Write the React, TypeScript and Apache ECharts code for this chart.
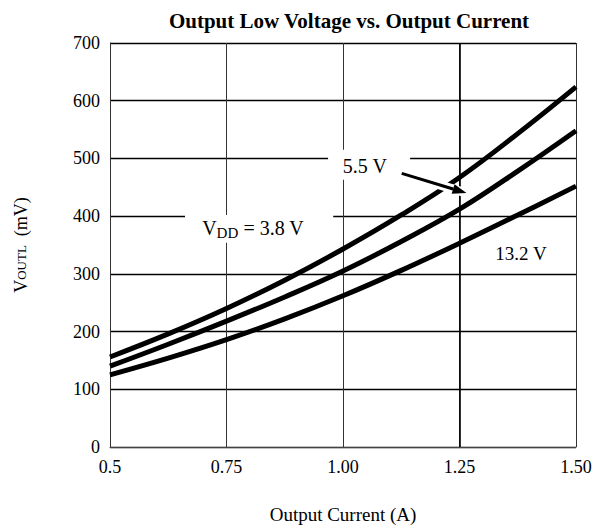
import React, { useEffect, useRef } from "react";
import * as echarts from "echarts";

const currents = [0.5, 0.625, 0.75, 0.875, 1.0, 1.125, 1.25, 1.375, 1.5];
const vdd38 = [156, 196, 240, 289, 343, 402, 467, 543, 624];
const vdd55 = [140, 178, 218, 260, 305, 356, 412, 478, 548];
const vdd132 = [125, 154, 186, 222, 262, 306, 353, 402, 452];
const xTickLabels: Record<string, string> = { "0.5": "0.5", "0.75": "0.75", "1": "1.00", "1.25": "1.25", "1.5": "1.50" };
const boldGridX = [1.25];

// annotation anchors in data space
const label55 = [1.047, 487];
const box55 = [[0.968, 515], [1.144, 463]];
const label38 = [0.807, 377];
const box38 = [[0.661, 402], [0.979, 354]];
const label132 = [1.382, 336];
const arrowFrom = [1.126, 474];
const arrowTo = [1.265, 440];

const FONT = "'Liberation Serif', 'DejaVu Serif', serif";

export default function App() {
  const ref = useRef<HTMLDivElement>(null);
  useEffect(() => {
    document.body.style.margin = "0";
    const chart = echarts.init(ref.current!, null, { renderer: "svg" });
    const mk = (vals: number[]) => currents.map((c, i) => [c, vals[i]]);
    const lineSeries = (name: string, vals: number[], extra: any = {}) => ({
      name,
      type: "line",
      data: mk(vals),
      smooth: 0.4,
      showSymbol: false,
      lineStyle: { color: "#000", width: 5 },
      z: 5,
      ...extra,
    });
    chart.setOption({
      animation: false,
      backgroundColor: "#fff",
      title: {
        text: "Output Low Voltage vs. Output Current",
        left: 344,
        textAlign: "center",
        top: 5,
        textStyle: { fontFamily: FONT, fontWeight: "bold", fontSize: 21, color: "#000" },
      },
      grid: { left: 110, right: 20, top: 43, bottom: 81, outerBoundsMode: "none", containLabel: false },
      xAxis: {
        type: "value",
        min: 0.5,
        max: 1.5,
        interval: 0.25,
        name: "Output Current (A)",
        nameLocation: "middle",
        nameGap: 58,
        nameTextStyle: { fontFamily: FONT, fontSize: 19, color: "#000" },
        axisLine: { show: true, lineStyle: { color: "#444", width: 1 } },
        axisTick: { show: false },
        axisLabel: {
          margin: 11,
          fontFamily: FONT,
          fontSize: 18,
          color: "#000",
          formatter: (v: number) => xTickLabels[String(v)] ?? String(v),
        },
        splitLine: { show: true, lineStyle: { color: "#333", width: 1 } },
      },
      yAxis: {
        type: "value",
        min: 0,
        max: 700,
        interval: 100,
        axisLine: { show: true, lineStyle: { color: "#333", width: 1 } },
        axisTick: { show: false },
        axisLabel: { margin: 10, fontFamily: FONT, fontSize: 18, color: "#000" },
        splitLine: { show: true, lineStyle: { color: "#000", width: 1.3 } },
      },
      series: [
        lineSeries("3.8 V", vdd38, {
          markLine: {
            silent: true,
            symbol: "none",
            label: { show: false },
            lineStyle: { color: "#000", width: 1.6, type: "solid" },
            data: boldGridX.map((x) => ({ xAxis: x })),
          },
        }),
        lineSeries("5.5 V", vdd55),
        lineSeries("13.2 V", vdd132),
      ],
    });

    const px = (p: number[]) => chart.convertToPixel({ gridIndex: 0 }, p) as number[];
    const rectFrom = (b: number[][]) => {
      const a = px(b[0]);
      const c = px(b[1]);
      return { x: a[0], y: a[1], width: c[0] - a[0], height: c[1] - a[1] };
    };
    const A = px(arrowFrom);
    const B = px(arrowTo);
    const dx = B[0] - A[0];
    const dy = B[1] - A[1];
    const len = Math.hypot(dx, dy);
    const ux = dx / len;
    const uy = dy / len;
    const headLen = 14;
    const headW = 5;
    const base = [B[0] - ux * headLen, B[1] - uy * headLen];
    const head = [
      [B[0], B[1]],
      [base[0] - uy * headW, base[1] + ux * headW],
      [base[0] + uy * headW, base[1] - ux * headW],
    ];
    const l55 = px(label55);
    const l38 = px(label38);
    const l132 = px(label132);
    chart.setOption({
      graphic: [
        { type: "rect", shape: rectFrom(box55), style: { fill: "#fff" }, z: 100 },
        { type: "rect", shape: rectFrom(box38), style: { fill: "#fff" }, z: 100 },
        {
          type: "line",
          shape: { x1: A[0], y1: A[1], x2: B[0] - ux * 4, y2: B[1] - uy * 4 },
          style: { stroke: "#fff", lineWidth: 9 },
          z: 100,
        },
        {
          type: "line",
          shape: { x1: A[0], y1: A[1], x2: base[0], y2: base[1] },
          style: { stroke: "#000", lineWidth: 3 },
          z: 101,
        },
        { type: "polygon", shape: { points: head }, style: { fill: "#000" }, z: 101 },
        {
          type: "text",
          x: l55[0],
          y: l55[1],
          style: { text: "5.5 V", fontFamily: FONT, fontSize: 20, fill: "#000", align: "center", verticalAlign: "middle" },
          z: 102,
        },
        {
          type: "text",
          x: l132[0],
          y: l132[1],
          style: { text: "13.2 V", fontFamily: FONT, fontSize: 19, fill: "#000", align: "center", verticalAlign: "middle" },
          z: 102,
        },
        {
          type: "text",
          x: l38[0],
          y: l38[1],
          style: {
            text: "{a|V}{s|DD}{a| = 3.8 V}",
            fontFamily: FONT,
            fill: "#000",
            align: "center",
            verticalAlign: "middle",
            rich: {
              a: { fontFamily: FONT, fontSize: 20, lineHeight: 22, verticalAlign: "top" },
              s: { fontFamily: FONT, fontSize: 15, lineHeight: 22, padding: [7, 0, 0, 0], verticalAlign: "top" },
            },
          },
          z: 102,
        },
        {
          type: "text",
          x: 21,
          y: 245,
          rotation: Math.PI / 2,
          style: {
            text: "{a|V}{b|OUTL}{a|  (mV)}",
            fontFamily: FONT,
            fill: "#000",
            align: "center",
            verticalAlign: "middle",
            rich: {
              a: { fontFamily: FONT, fontSize: 18 },
              b: { fontFamily: FONT, fontSize: 13 },
            },
          },
          z: 102,
        },
      ],
    });
    return () => chart.dispose();
  }, []);
  return <div ref={ref} style={{ width: 596, height: 528 }} />;
}
